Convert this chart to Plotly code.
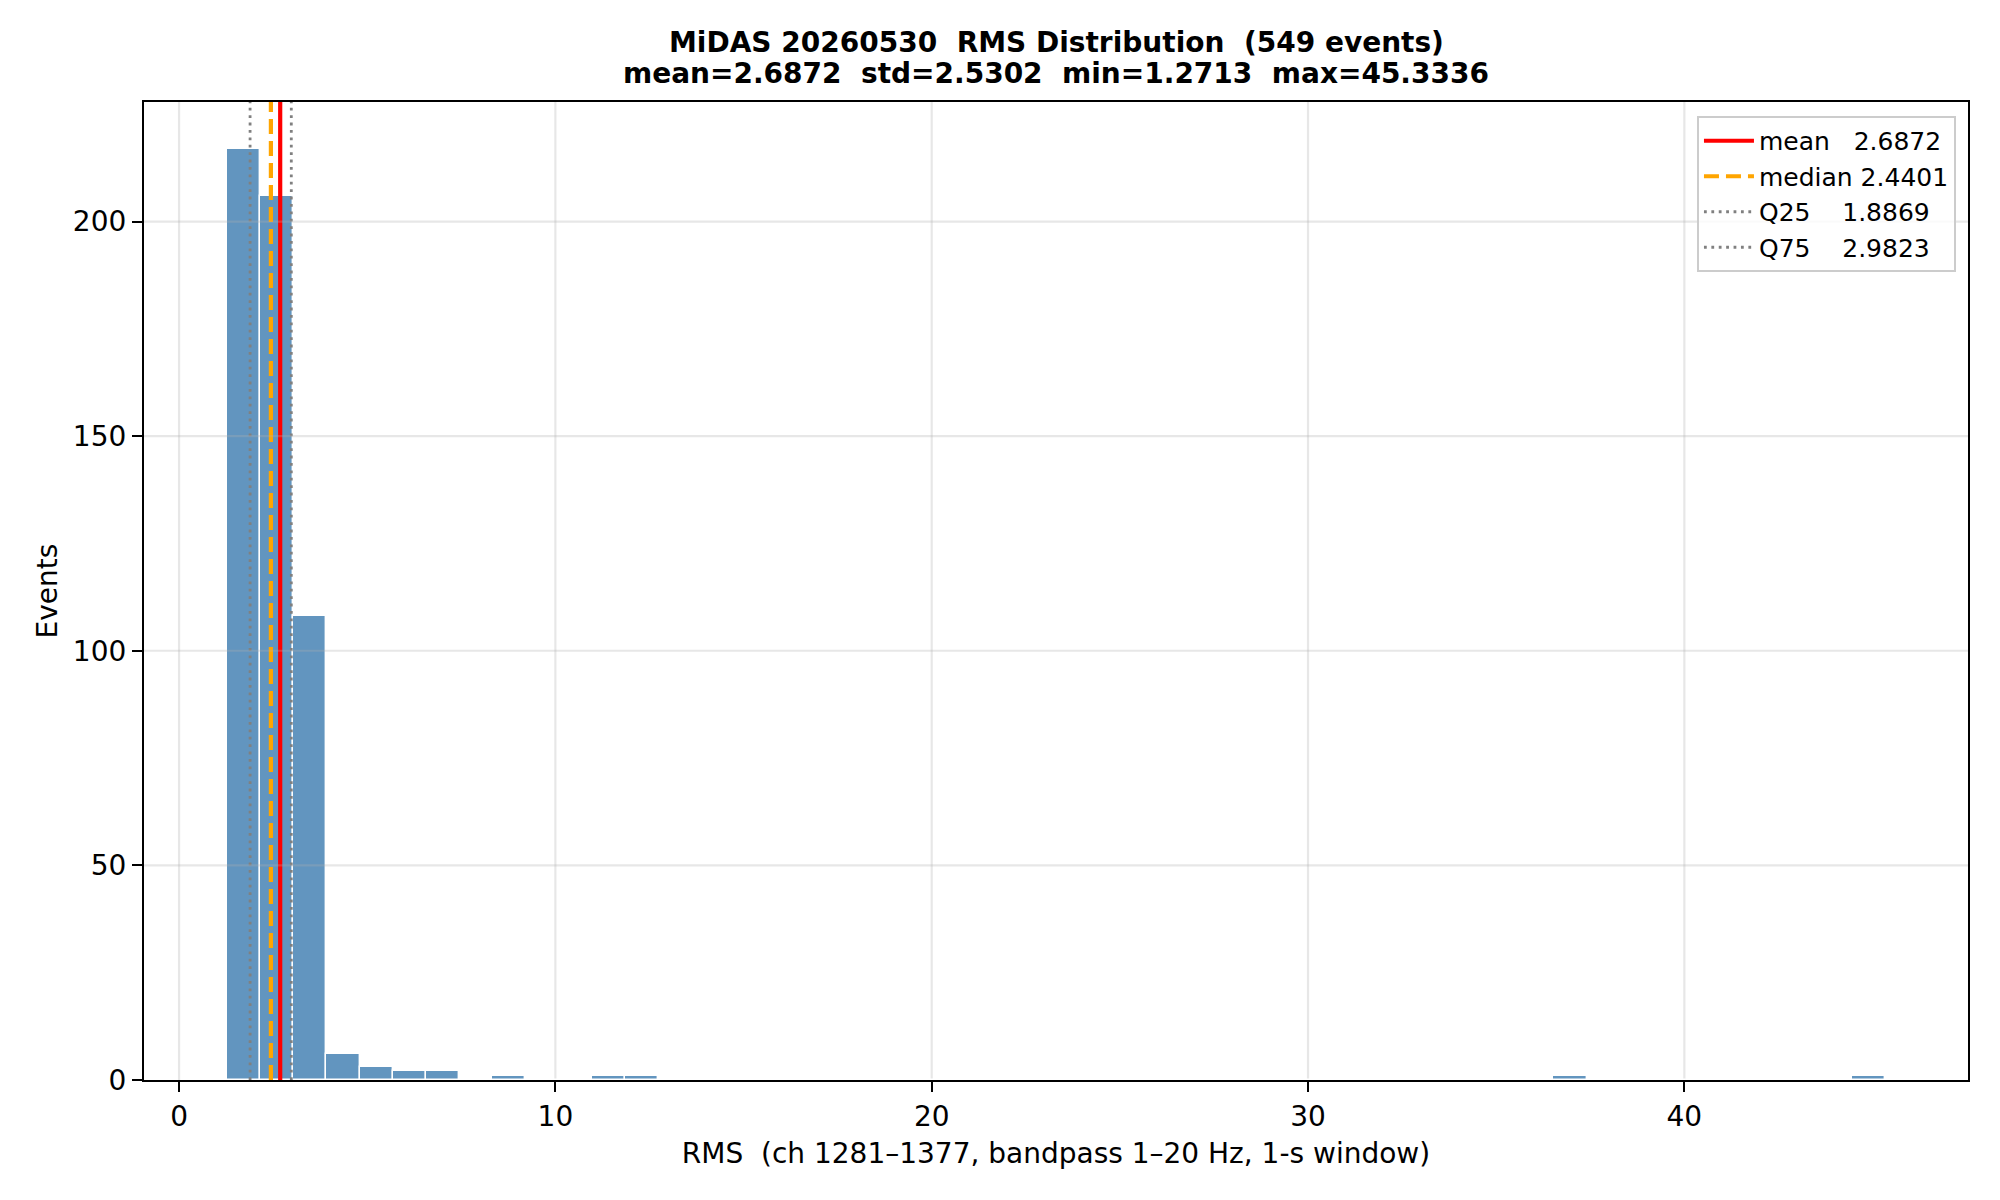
import numpy as np
import plotly.graph_objects as go

# RMS histogram (50 equal bins between min and max)
rms_min = 1.2713
rms_max = 45.3336
n_bins = 50
counts = [217, 206, 108, 6, 3, 2, 2, 0, 1, 0, 0, 1, 1] + [0] * 27 + [1] + [0] * 8 + [1]

n_events = 549
mean_v = 2.6872
median_v = 2.4401
q25_v = 1.8869
q75_v = 2.9823
std_v = 2.5302

x_ticks = [0, 10, 20, 30, 40]
y_ticks = [0, 50, 100, 150, 200]

edges = np.linspace(rms_min, rms_max, n_bins + 1)
centers = (edges[:-1] + edges[1:]) / 2
bin_w = edges[1] - edges[0]

span = rms_max - rms_min
x_range = [rms_min - 0.05 * span, rms_max + 0.05 * span]
y_top = max(counts) * 1.05

FONT = "DejaVu Sans"

fig = go.Figure()

fig.add_trace(go.Bar(
    x=centers, y=counts, width=bin_w,
    marker=dict(color="rgba(70,130,180,0.85)", line=dict(color="white", width=1.4)),
    showlegend=False, hoverinfo="skip",
))

nb = "\u00a0"
vlines = [
    (mean_v, f"mean{nb*3}{mean_v:.4f}", dict(color="red", width=4.2, dash="solid")),
    (median_v, f"median{nb}{median_v:.4f}", dict(color="orange", width=4.2, dash="15px,7px")),
    (q25_v, f"Q25{nb*4}{q25_v:.4f}", dict(color="gray", width=2.8, dash="2.8px,4.6px")),
    (q75_v, f"Q75{nb*4}{q75_v:.4f}", dict(color="gray", width=2.8, dash="2.8px,4.6px")),
]
for xv, name, line in vlines:
    fig.add_trace(go.Scatter(
        x=[xv, xv], y=[0, y_top], mode="lines", name=name, line=line, hoverinfo="skip",
    ))

# grid drawn over the bars, like the reference
grid_col = "rgba(176,176,176,0.3)"
for yv in y_ticks[1:]:
    fig.add_shape(type="line", xref="paper", x0=0, x1=1, yref="y", y0=yv, y1=yv,
                  line=dict(color=grid_col, width=2.2), layer="above")
for xv in x_ticks:
    fig.add_shape(type="line", yref="paper", y0=0, y1=1, xref="x", x0=xv, x1=xv,
                  line=dict(color=grid_col, width=2.2), layer="below")

axis_style = dict(
    showline=True, mirror=True, linecolor="black", linewidth=2.2,
    ticks="outside", ticklen=10, tickwidth=2.2, tickcolor="black",
    showgrid=False, zeroline=False, layer="above traces",
    tickfont=dict(family=FONT, size=28, color="black"),
)
fig.update_xaxes(
    range=x_range, tickvals=x_ticks, **axis_style,
    title=dict(text="RMS  (ch 1281–1377, bandpass 1–20 Hz, 1-s window)",
               font=dict(family=FONT, size=28, color="black"), standoff=12),
)
fig.update_yaxes(
    range=[0, y_top], tickvals=y_ticks, **axis_style,
    title=dict(text="Events", font=dict(family=FONT, size=28, color="black"), standoff=7),
)

title_font = dict(family=FONT, size=28, color="black", weight="bold")
fig.add_annotation(
    text=f"MiDAS 20260530  RMS Distribution  ({n_events} events)",
    xref="paper", yref="paper", x=0.5, y=1, yanchor="middle", yshift=60,
    showarrow=False, font=title_font,
)
fig.add_annotation(
    text=f"mean={mean_v:.4f}  std={std_v:.4f}  min={rms_min:.4f}  max={rms_max:.4f}",
    xref="paper", yref="paper", x=0.5, y=1, yanchor="middle", yshift=29,
    showarrow=False, font=title_font,
)

fig.update_layout(
    width=2000, height=1200,
    margin=dict(l=136, r=40, t=94, b=128),
    plot_bgcolor="white", paper_bgcolor="white",
    bargap=0,
    hovermode=False,
    legend=dict(
        x=0.9934, y=0.9857, xanchor="right", yanchor="top",
        bgcolor="rgba(255,255,255,0.8)", bordercolor="#cccccc", borderwidth=2,
        font=dict(family=FONT, size=25, color="black"),
        itemwidth=50,
    ),
)

fig.write_html("out.html")
